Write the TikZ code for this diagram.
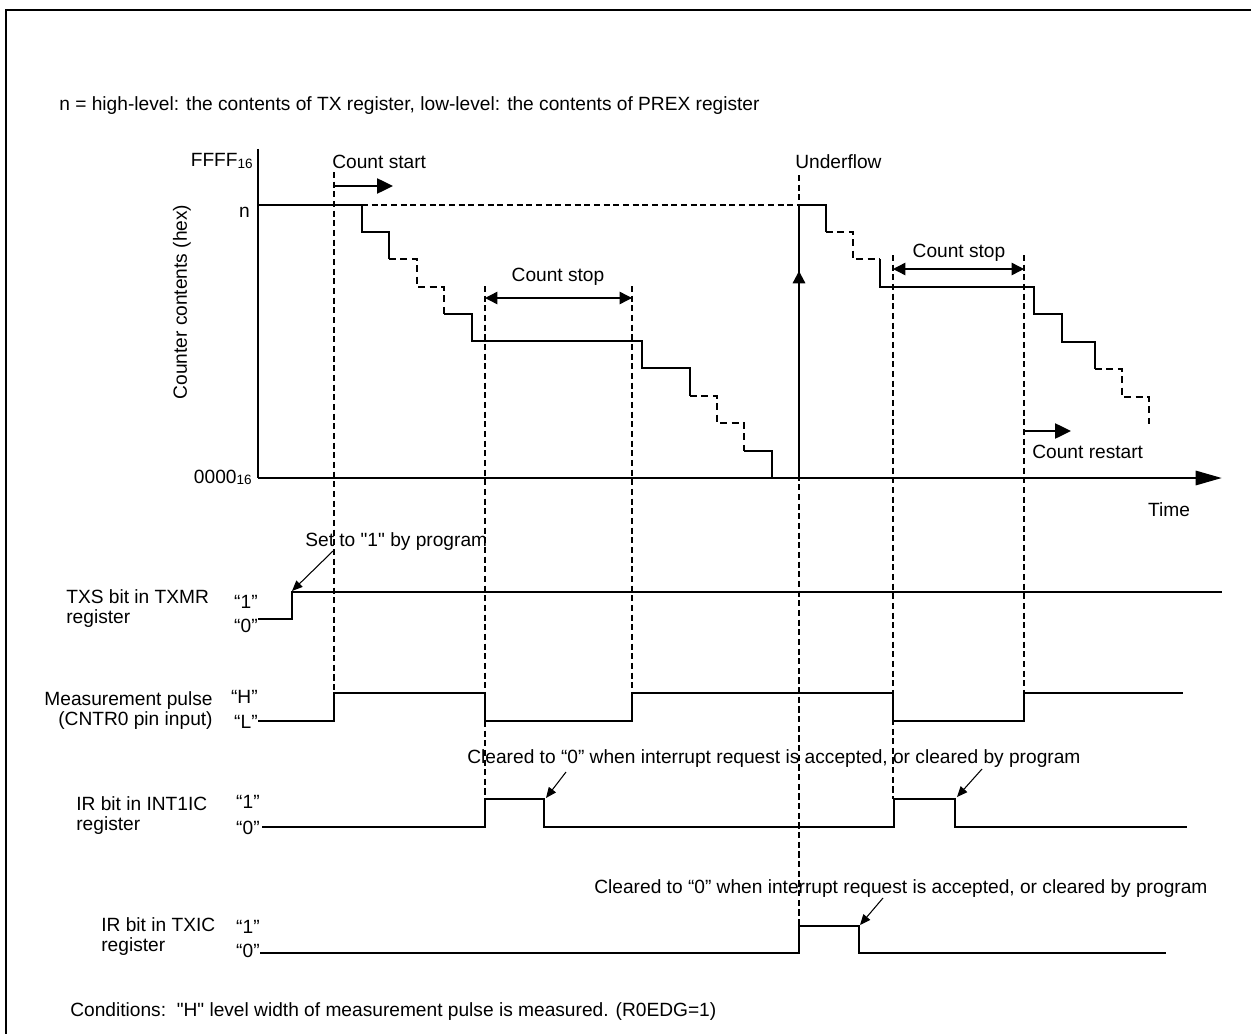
\documentclass[tikz,border=0pt]{standalone}
\usepackage{fontspec}
\setmainfont{Liberation Sans}[Ligatures=TeXOff]
\usetikzlibrary{arrows.meta}

\begin{document}
\begin{tikzpicture}[x=0.02cm,y=-0.02cm,
  txt/.style={inner sep=0pt,font=\fontsize{10.9}{11.4}\selectfont},
  axis/.style={line width=1.7pt},
  wave/.style={line width=1pt},
  stair/.style={line width=0.9pt},
  stairdash/.style={line width=0.9pt,dash pattern=on 4pt off 2.5pt},
  guide/.style={line width=0.6pt,dash pattern=on 3.5pt off 2pt},
  note/.style={-{Triangle[length=6pt,width=5pt]},line width=0.6pt},
  span/.style={{Triangle[length=7pt,width=7pt]}-{Triangle[length=7pt,width=7pt]},line width=0.8pt},
  go/.style={-{Triangle[length=9pt,width=8.5pt]},line width=1.2pt}]
  \useasboundingbox (0,0) rectangle (1251,1034);
  \draw[line width=1.2pt] (6,1034) -- (6,10) -- (1251,10);

  % heading and counter graph labels
  \node[txt,anchor=base west](topnote) at (59,111)
    {n = high-level: the contents of TX register, low-level: the contents of PREX register};
  \node[txt,anchor=base east](ffff) at (253,167)
    {FFFF\raisebox{-0.8pt}{\fontsize{7.7}{8}\selectfont 16}};
  \node[txt,anchor=base east](nlab) at (250,217) {n};
  \node[txt,anchor=base east](zero) at (252,483)
    {0000\raisebox{-0.8pt}{\fontsize{7.7}{8}\selectfont 16}};
  \node[txt,rotate=90](ylab) at (182,302) {Counter contents (hex)};
  \node[txt,anchor=base](timelab) at (1169,516) {Time};
  \node[txt,anchor=base west](cstart) at (332,169) {Count start};
  \node[txt,anchor=base](cstop1) at (558,281) {Count stop};
  \node[txt,anchor=base](cstop2) at (959,257) {Count stop};
  \node[txt,anchor=base west](crestart) at (1032,458) {Count restart};
  \node[txt,anchor=base west](uflow) at (795,169) {Underflow};

  % axes
  \coordinate (org) at (258,478);
  \draw[axis] (258,149) -- (org);
  \draw[axis,-{Triangle[length=15pt,width=8pt]}] (org) -- (1222,478);

  % guide lines
  \draw[guide] (334,172) -- (334,693);
  \draw[guide] (485,286) -- (485,799);
  \draw[guide] (632,286) -- (632,693);
  \draw[guide] (799,175) -- (799,926);
  \draw[guide] (893,255) -- (893,799);
  \draw[guide] (1024,255) -- (1024,693);
  \draw[guide] (362,205) -- (799,205);

  % counter contents
  \draw[stair] (258,205) -- (362,205) -- (362,232) -- (389,232) -- (389,259);
  \draw[stairdash] (389,259) -- (417,259) -- (417,287) -- (444,287) -- (444,314);
  \draw[stair] (444,314) -- (472,314) -- (472,341) -- (642,341) -- (642,368)
    -- (690,368) -- (690,396);
  \draw[stairdash] (690,396) -- (717,396) -- (717,423) -- (744,423) -- (744,451);
  \draw[stair] (744,451) -- (772,451) -- (772,478);
  \draw[stair] (799,205) -- (826,205) -- (826,232);
  \draw[stairdash] (826,232) -- (853,232) -- (853,259) -- (880,259);
  \draw[stair] (880,259) -- (880,287) -- (1034,287) -- (1034,314) -- (1062,314)
    -- (1062,342) -- (1095,342) -- (1095,369);
  \draw[stairdash] (1095,369) -- (1122,369) -- (1122,397) -- (1149,397) -- (1149,424);

  % underflow reload
  \draw[line width=1.3pt] (799,478) -- (799,205);
  \draw[line width=1.3pt,-{Triangle[length=7pt,width=7pt]}] (799,290) -- (799,271);

  % count arrows
  \draw[go] (334,186) -- (393,186);
  \draw[span] (485,298) -- (632,298);
  \draw[span] (893,269) -- (1024,269);
  \draw[go] (1024,431) -- (1071,431);

  % signal labels
  \node[txt,anchor=west,align=left](txslab) at (66,609) {TXS bit in TXMR\\register};
  \node[txt,anchor=east,align=right](measlab) at (213,711) {Measurement pulse\\(CNTR0 pin input)};
  \node[txt,anchor=west,align=left](int1lab) at (76,816) {IR bit in INT1IC\\register};
  \node[txt,anchor=west,align=left](txiclab) at (101,937) {IR bit in TXIC\\register};
  \node[txt,anchor=base east](q1a) at (258,608) {“1”};
  \node[txt,anchor=base east](q0a) at (258,632) {“0”};
  \node[txt,anchor=base east](qha) at (258,703) {“H”};
  \node[txt,anchor=base east](qla) at (258,728) {“L”};
  \node[txt,anchor=base east](q1b) at (260,808) {“1”};
  \node[txt,anchor=base east](q0b) at (260,834) {“0”};
  \node[txt,anchor=base east](q1c) at (260,933) {“1”};
  \node[txt,anchor=base east](q0c) at (260,957) {“0”};

  % signals
  \draw[wave] (258,619) -- (292,619) -- (292,592) -- (1222,592);
  \draw[wave] (258,721) -- (334,721) -- (334,693) -- (485,693) -- (485,721)
    -- (632,721) -- (632,693) -- (893,693) -- (893,721) -- (1024,721)
    -- (1024,693) -- (1183,693);
  \draw[wave] (262,827) -- (485,827) -- (485,799) -- (544,799) -- (544,827)
    -- (894,827) -- (894,799) -- (955,799) -- (955,827) -- (1187,827);
  \draw[wave] (260,953) -- (799,953) -- (799,926) -- (859,926) -- (859,953)
    -- (1166,953);

  % notes
  \node[txt,anchor=base west](set1) at (305,546) {Set to "1" by program};
  \node[txt,anchor=base west](cl1) at (467,763)
    {Cleared to “0” when interrupt request is accepted, or cleared by program};
  \node[txt,anchor=base west](cl2) at (594,893)
    {Cleared to “0” when interrupt request is accepted, or cleared by program};
  \node[txt,anchor=base west](cond) at (70,1016)
    {Conditions:\ \ "H" level width of measurement pulse is measured. (R0EDG=1)};

  \coordinate (set1s) at (333,551);  \coordinate (txsup) at (292,591);
  \coordinate (cl1sa) at (566,772);  \coordinate (irfalla) at (546,798);
  \coordinate (cl1sb) at (982,769);  \coordinate (irfallb) at (957,797);
  \coordinate (cl2s) at (883,898);   \coordinate (txicfall) at (860,925);
  \draw[note] (set1s) -- (txsup);
  \draw[note] (cl1sa) -- (irfalla);
  \draw[note] (cl1sb) -- (irfallb);
  \draw[note] (cl2s) -- (txicfall);
\end{tikzpicture}
\end{document}
